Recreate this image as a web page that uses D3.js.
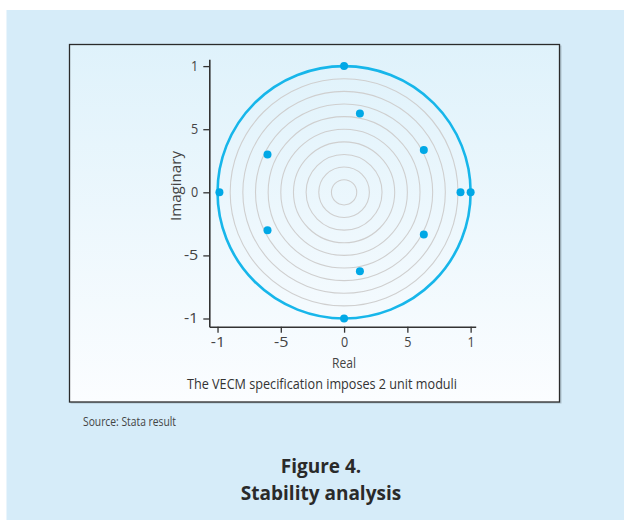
<!DOCTYPE html>
<html>
<head>
<meta charset="utf-8">
<script src="https://cdn.jsdelivr.net/npm/d3@7"></script>
<style>
  html, body { margin: 0; padding: 0; background: #ffffff; }
  svg { display: block; }
</style>
</head>
<body>
<svg id="chart" width="624" height="520"></svg>
<script>
// ---- data ----
const eigenReal = [0, 0, 0.125, 0.125, 0.63, 0.63, 0.92, 1.0, -0.985, -0.605, -0.605];
const eigenImag = [1, -1, 0.625, -0.625, 0.335, -0.335, 0, 0, 0, 0.30, -0.30];
const gridRadii = [0.1, 0.2, 0.3, 0.4, 0.5, 0.6, 0.7, 0.8, 0.9];
const unitRadius = [1];
const tickValues = [-1, -0.5, 0, 0.5, 1];
const tickLabels = ["-1", "-5", "0", "5", "1"];
const xTitle = "Real";
const yTitle = "Imaginary";
const noteText = "The VECM specification imposes 2 unit moduli";
const sourceText = "Source: Stata result";
const figTitle = ["Figure 4.", "Stability analysis"];

const svg = d3.select("#chart");
const narrow = "'Open Sans', 'Noto Sans', sans-serif";
const bold = "'Open Sans', 'Noto Sans', sans-serif";

// backgrounds
const defs = svg.append("defs");
const grad = defs.append("linearGradient").attr("id", "boxGrad")
  .attr("x1", 0).attr("y1", 0).attr("x2", 0).attr("y2", 1);
grad.append("stop").attr("offset", "0%").attr("stop-color", "#dff2fb");
grad.append("stop").attr("offset", "100%").attr("stop-color", "#fbfdff");

svg.append("rect").attr("x", 6.5).attr("y", 10).attr("width", 617.5).attr("height", 510)
  .attr("fill", "#d6ecf9");
svg.append("rect").attr("x", 70.5).attr("y", 45.5).attr("width", 491).attr("height", 358)
  .attr("fill", "#8a9aa6").attr("opacity", 0.5);
svg.append("rect").attr("x", 69.5).attr("y", 44.5).attr("width", 490).attr("height", 357.5)
  .attr("fill", "url(#boxGrad)").attr("stroke", "#2b2b2b").attr("stroke-width", 1.3);

// scales
const x = d3.scaleLinear().domain([-1.065, 1.04]).range([209.3, 475.7]);
const y = d3.scaleLinear().domain([-1.065, 1.054]).range([326.7, 59.3]);

const g = svg.append("g");

// grid circles
g.selectAll("ellipse.grid").data(gridRadii).join("ellipse")
  .attr("class", "grid")
  .attr("cx", x(0)).attr("cy", y(0))
  .attr("rx", d => x(d) - x(0)).attr("ry", d => y(0) - y(d))
  .attr("fill", "none").attr("stroke", "#cfcfcf").attr("stroke-width", 1.1);

// unit circle
g.selectAll("ellipse.unit").data(unitRadius).join("ellipse")
  .attr("class", "unit")
  .attr("cx", x(0)).attr("cy", y(0))
  .attr("rx", d => x(d) - x(0)).attr("ry", d => y(0) - y(d))
  .attr("fill", "none").attr("stroke", "#17b6ea").attr("stroke-width", 2.6);

// points
const pts = eigenReal.map((r, i) => ({ r, im: eigenImag[i] }));
g.selectAll("circle.pt").data(pts).join("circle")
  .attr("class", "pt")
  .attr("cx", d => x(d.r)).attr("cy", d => y(d.im)).attr("r", 4)
  .attr("fill", "#00a8e6");

// axes
const xAxis = d3.axisBottom(x).tickValues(tickValues).tickSize(6).tickSizeOuter(0).tickPadding(4)
  .tickFormat((d, i) => tickLabels[i]);
const yAxis = d3.axisLeft(y).tickValues(tickValues).tickSize(6).tickSizeOuter(0).tickPadding(5)
  .tickFormat((d, i) => tickLabels[i]);

const gx = svg.append("g").attr("transform", `translate(0,${326.7})`).call(xAxis);
const gy = svg.append("g").attr("transform", `translate(${209.3},0)`).call(yAxis);
[gx, gy].forEach(a => {
  a.select(".domain").attr("stroke", "#333").attr("stroke-width", 1.6);
  a.selectAll(".tick line").attr("stroke", "#333").attr("stroke-width", 1.3);
  a.selectAll(".tick text").attr("fill", "#444").style("font-family", narrow).style("font-size", "14px")
    .attr("textLength", (d, i) => tickLabels[i].length * 7.2).attr("lengthAdjust", "spacingAndGlyphs");
});

function fitText(sel, w) {
  return sel.attr("textLength", w).attr("lengthAdjust", "spacingAndGlyphs");
}

// titles
fitText(svg.append("text").attr("x", x(0)).attr("y", 368).attr("text-anchor", "middle")
  .style("font-family", narrow).style("font-size", "14px").attr("fill", "#444").text(xTitle), 24);
fitText(svg.append("text").attr("transform", `translate(181,186) rotate(-90)`).attr("text-anchor", "middle")
  .style("font-family", narrow).style("font-size", "14px").attr("fill", "#444").text(yTitle), 70);
fitText(svg.append("text").attr("x", 322).attr("y", 389).attr("text-anchor", "middle")
  .style("font-family", narrow).style("font-size", "15px").attr("fill", "#333").text(noteText), 270);

fitText(svg.append("text").attr("x", 83).attr("y", 426).attr("text-anchor", "start")
  .style("font-family", narrow).style("font-size", "12.5px").attr("fill", "#444").text(sourceText), 93);

svg.selectAll("text.fig").data(figTitle).join("text").attr("class", "fig")
  .attr("x", 321).attr("y", (d, i) => 473 + i * 27).attr("text-anchor", "middle")
  .style("font-family", bold).style("font-weight", "bold").style("font-size", "19px")
  .attr("fill", "#2a2a2a").text(d => d);
</script>
</body>
</html>
